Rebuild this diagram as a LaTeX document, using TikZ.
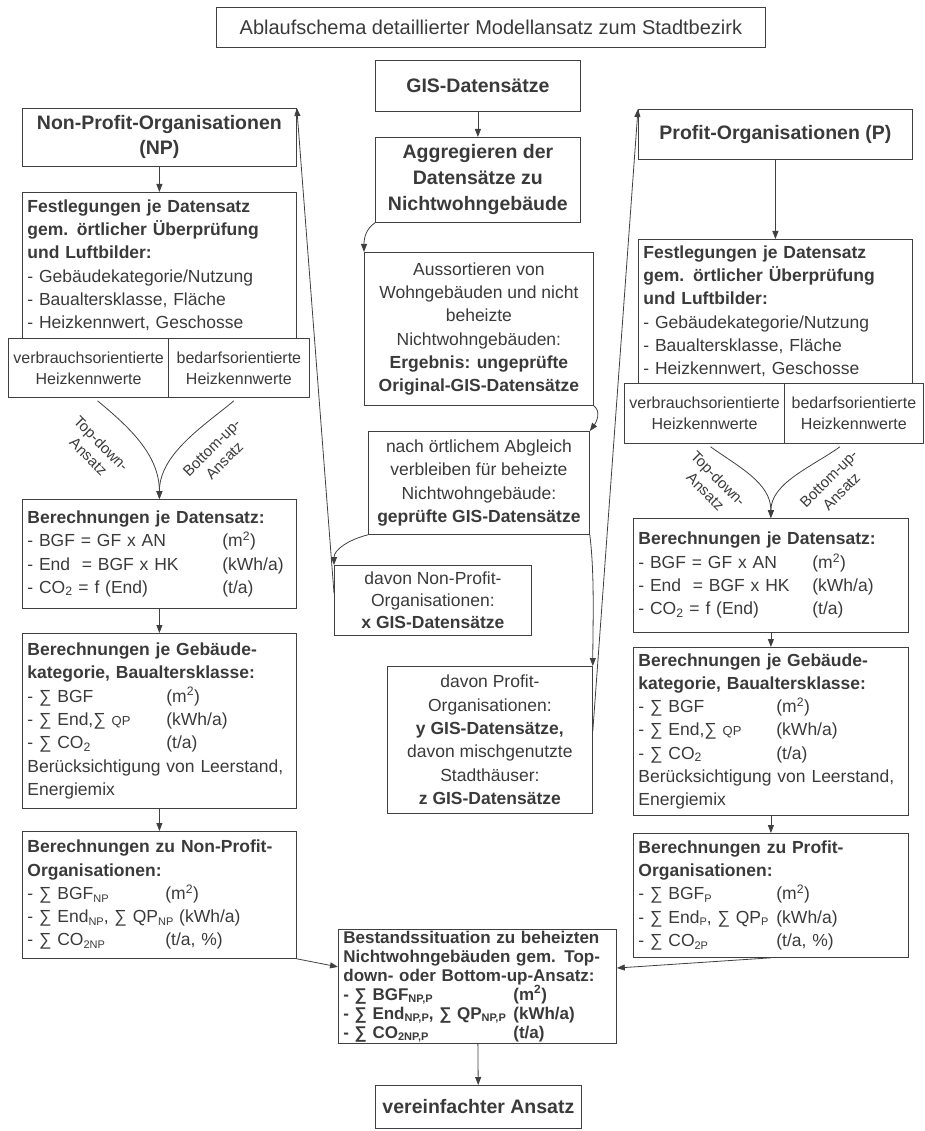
\documentclass[tikz,border=0pt]{standalone}
\usepackage{fontspec}
\setmainfont{Liberation Sans}
\usetikzlibrary{arrows.meta,calc}
\definecolor{tc}{HTML}{3A3A3A}
\definecolor{lc}{HTML}{404040}
\newcommand\sbs[1]{\raisebox{-0.3ex}[0pt][0pt]{\fontsize{11}{11}\selectfont #1}}
\newcommand\smq[1]{{\fontsize{13}{13}\selectfont #1}}
\newcommand\rw[3]{\makebox[#1][l]{#2}#3}
\begin{document}
\begin{tikzpicture}[x=1pt,y=-1pt,
  every node/.style={text=tc},
  box/.style={draw=lc,line width=0.8pt,anchor=north west,inner xsep=5pt,inner ysep=0pt,font=\fontsize{17.5}{23.3}\selectfont},
  head/.style={box,font=\bfseries\fontsize{19.5}{25}\selectfont,align=center},
  sub/.style={box,align=center,font=\fontsize{16}{21}\selectfont},
  arr/.style={draw=lc,line width=0.8pt,-{Triangle[length=8pt,width=6pt]}},
  lab/.style={font=\fontsize{15}{18}\selectfont,align=center,text=tc,inner sep=0pt}
]
\useasboundingbox (0,0) rectangle (924,1131);
% title
\node[box,minimum width=549,minimum height=40,align=center,font=\fontsize{20}{24}\selectfont] (title) at (216,7) {Ablaufschema detaillierter Modellansatz zum Stadtbezirk};
% centre column
\node[head,minimum width=205,minimum height=51] (gis) at (375,60) {GIS-Datensätze};
\node[head,minimum width=205,minimum height=85,font=\bfseries\fontsize{19.5}{26}\selectfont] (agg) at (375,137) {Aggregieren der\\Datensätze zu\\Nichtwohngebäude};
\node[box,align=center,minimum width=229,minimum height=153] (aus) at (364,252) {Aussortieren von\\Wohngebäuden und nicht\\beheizte\\Nichtwohngebäuden:\\\textbf{Ergebnis: ungeprüfte}\\\textbf{Original-GIS-Datensätze}};
\node[box,align=center,minimum width=221,minimum height=103] (nach) at (368,431) {nach örtlichem Abgleich\\verbleiben für beheizte\\Nichtwohngebäude:\\\textbf{geprüfte GIS-Datensätze}};
\node[box,align=center,minimum width=197,minimum height=70,font=\fontsize{17.5}{22}\selectfont] (dnp) at (334,565) {davon Non-Profit-\\Organisationen:\\\textbf{x GIS-Datensätze}};
\node[box,align=center,minimum width=205,minimum height=147] (dp) at (387,666) {davon Profit-\\Organisationen:\\\textbf{y GIS-Datensätze,}\\davon mischgenutzte\\Stadthäuser:\\\textbf{z GIS-Datensätze}};
\node[box,text width=268,align=left,minimum height=114,font=\bfseries\fontsize{17}{19}\selectfont] (bst) at (338,929) {Bestandssituation zu beheizten\\Nichtwohngebäuden gem. Top-\\down- oder Bottom-up-Ansatz:\\\rw{170pt}{- ∑ BGF\sbs{NP,P}}{(m\textsuperscript{2})}\\\rw{170pt}{- ∑ End\sbs{NP,P}, ∑ QP\sbs{NP,P}}{(kWh/a)}\\\rw{170pt}{- ∑ CO\sbs{2NP,P}}{(t/a)}};
\node[head,minimum width=206,minimum height=43] (ver) at (375,1085) {vereinfachter Ansatz};
% left column
\node[head,minimum width=274,minimum height=58] (np) at (22,108) {Non-Profit-Organisationen\\(NP)};
\node[box,text width=264,align=left,minimum height=146] (fnp) at (22,192) {\textbf{Festlegungen je Datensatz\\gem. örtlicher Überprüfung\\und Luftbilder:}\\- Gebäudekategorie/Nutzung\\- Baualtersklasse, Fläche\\- Heizkennwert, Geschosse};
\node[sub,minimum width=160,minimum height=59] (nv) at (8,338) {verbrauchsorientierte\\Heizkennwerte};
\node[sub,minimum width=141,minimum height=59] (nb) at (168,338) {bedarfsorientierte\\Heizkennwerte};
\node[box,text width=264,align=left,minimum height=109] (bnp) at (22,499) {\textbf{Berechnungen je Datensatz:}\\\rw{195pt}{- BGF = GF x AN}{(m\textsuperscript{2})}\\\rw{195pt}{- End\ \ = BGF x HK}{(kWh/a)}\\\rw{195pt}{- CO\textsubscript{2} = f (End)}{(t/a)}};
\node[box,text width=264,align=left,minimum height=175] (gnp) at (22,633) {\textbf{Berechnungen je Gebäude-\\kategorie, Baualtersklasse:}\\\rw{139pt}{- ∑ BGF}{(m\textsuperscript{2})}\\\rw{139pt}{- ∑ End,∑ \smq{QP}}{(kWh/a)}\\\rw{139pt}{- ∑ CO\textsubscript{2}}{(t/a)}\\Berücksichtigung von Leerstand,\\Energiemix};
\node[box,text width=264,align=left,minimum height=127] (znp) at (22,831) {\textbf{Berechnungen zu Non-Profit-\\Organisationen:}\\\rw{138pt}{- ∑ BGF\sbs{NP}}{(m\textsuperscript{2})}\\- ∑ End\sbs{NP}, ∑ QP\sbs{NP} (kWh/a)\\\rw{138pt}{- ∑ CO\sbs{2NP}}{(t/a, \%)}};
% right column
\node[head,minimum width=274,minimum height=50] (p) at (638,109) {Profit-Organisationen (P)};
\node[box,text width=264,align=left,minimum height=144] (fp) at (638,239) {\textbf{Festlegungen je Datensatz\\gem. örtlicher Überprüfung\\und Luftbilder:}\\- Gebäudekategorie/Nutzung\\- Baualtersklasse, Fläche\\- Heizkennwert, Geschosse};
\node[sub,minimum width=160,minimum height=60] (pv) at (624,383) {verbrauchsorientierte\\Heizkennwerte};
\node[sub,minimum width=139,minimum height=60] (pb) at (784,383) {bedarfsorientierte\\Heizkennwerte};
\node[box,text width=265,align=left,minimum height=114] (bp) at (633,518) {\textbf{Berechnungen je Datensatz:}\\\rw{174pt}{- BGF = GF x AN}{(m\textsuperscript{2})}\\\rw{174pt}{- End\ \ = BGF x HK}{(kWh/a)}\\\rw{174pt}{- CO\textsubscript{2} = f (End)}{(t/a)}};
\node[box,text width=265,align=left,minimum height=168] (gp) at (633,647) {\textbf{Berechnungen je Gebäude-\\kategorie, Baualtersklasse:}\\\rw{138pt}{- ∑ BGF}{(m\textsuperscript{2})}\\\rw{138pt}{- ∑ End,∑ \smq{QP}}{(kWh/a)}\\\rw{138pt}{- ∑ CO\textsubscript{2}}{(t/a)}\\Berücksichtigung von Leerstand,\\Energiemix};
\node[box,text width=265,align=left,minimum height=124] (zp) at (633,833) {\textbf{Berechnungen zu Profit-\\Organisationen:}\\\rw{138pt}{- ∑ BGF\sbs{P}}{(m\textsuperscript{2})}\\\rw{138pt}{- ∑ End\sbs{P}, ∑ QP\sbs{P}}{(kWh/a)}\\\rw{138pt}{- ∑ CO\sbs{2P}}{(t/a, \%)}};
% labels
\node[lab,rotate=-45] (tdl) at (95,450) {Top-down-\\Ansatz};
\node[lab,rotate=45] (bul) at (218,454) {Bottom-up-\\Ansatz};
\node[lab,rotate=-45] (tdr) at (712,485) {Top-down-\\Ansatz};
\node[lab,rotate=45] (bur) at (835,485) {Bottom-up-\\Ansatz};
% connectors
\draw[arr] (gis) -- (agg);
\draw[arr] (agg.south west) .. controls +(-9,6) and +(0,-14) .. (aus.north west);
\draw[arr] (aus.south east) .. controls +(8,6) and +(6,-8) .. (nach.north east);
\draw[arr] (nach.south west) .. controls +(-20,5) and +(0,-15) .. (dnp.north west);
\draw[arr] (nach.south east) .. controls +(5,40) and +(0,-40) .. (dp.north east);
\draw[arr] ($(dp.north east)!0.44!(dp.south east)$) -- (p.north west);
\draw[arr] ($(dnp.north west)!0.4!(dnp.south west)$) -- (np.north east);
\draw[arr] (np) -- (fnp);
\draw[arr] (p) -- (fp);
\draw[arr] ($(nv.south)+(9,3)$) .. controls +(30,25) and +(0,-45) .. (bnp.north);
\draw[arr] ($(nb.south)+(-5,3)$) .. controls +(-30,25) and +(0,-45) .. (bnp.north);
\draw[arr] ($(pv.south)+(6,3)$) .. controls +(28,20) and +(0,-35) .. (bp.north);
\draw[arr] ($(pb.south)+(-14,3)$) .. controls +(-28,20) and +(0,-35) .. (bp.north);
\draw[arr] (bnp) -- (gnp);
\draw[arr] (gnp) -- (znp);
\draw[arr] (bp) -- (gp);
\draw[arr] (gp) -- (zp);
\draw[arr] (znp.south east) -- ($(bst.north west)!0.33!(bst.south west)$);
\draw[arr] (zp.south) -- ($(bst.north east)!0.34!(bst.south east)$);
\draw[arr] (bst) -- (ver);
\end{tikzpicture}
\end{document}
